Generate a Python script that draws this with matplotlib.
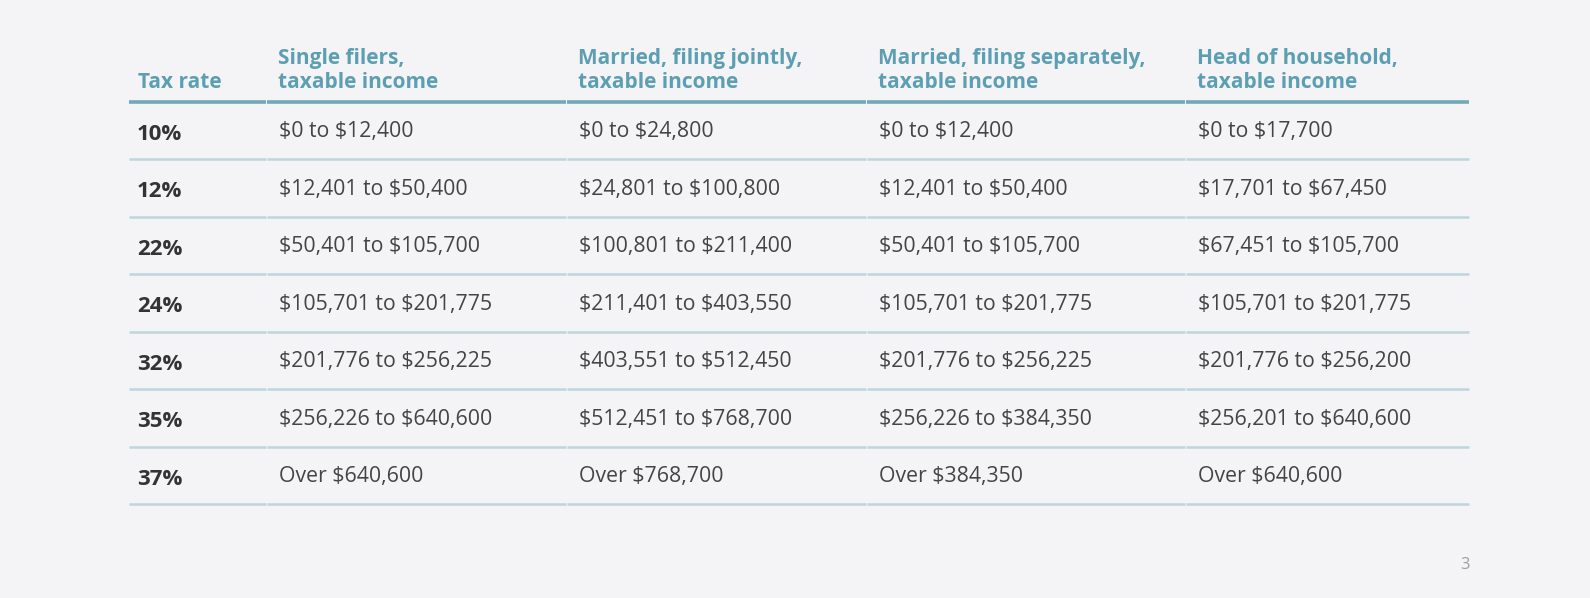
import matplotlib
matplotlib.use("Agg")
import matplotlib.pyplot as plt

headers = ["Tax rate", "Single filers,\ntaxable income", "Married, filing jointly,\ntaxable income",
           "Married, filing separately,\ntaxable income", "Head of household,\ntaxable income"]
rates = ["10%", "12%", "22%", "24%", "32%", "35%", "37%"]
single = ["$0 to $12,400", "$12,401 to $50,400", "$50,401 to $105,700", "$105,701 to $201,775",
          "$201,776 to $256,225", "$256,226 to $640,600", "Over $640,600"]
joint = ["$0 to $24,800", "$24,801 to $100,800", "$100,801 to $211,400", "$211,401 to $403,550",
         "$403,551 to $512,450", "$512,451 to $768,700", "Over $768,700"]
separate = ["$0 to $12,400", "$12,401 to $50,400", "$50,401 to $105,700", "$105,701 to $201,775",
            "$201,776 to $256,225", "$256,226 to $384,350", "Over $384,350"]
household = ["$0 to $17,700", "$17,701 to $67,450", "$67,451 to $105,700", "$105,701 to $201,775",
             "$201,776 to $256,200", "$256,201 to $640,600", "Over $640,600"]

BG = "#f4f4f6"
TEAL = "#5d9fb2"
plt.rcParams['font.family'] = ['Open Sans', 'DejaVu Sans']
plt.rcParams['text.parse_math'] = False  # keep the $ signs literal

fig = plt.figure(figsize=(15.9, 5.98), dpi=100, facecolor=BG)
ax = fig.add_axes([0, 0, 1, 1])
ax.set_facecolor(BG)
ax.set_xlim(0, 1590)
ax.set_ylim(598, 0)
ax.axis("off")

# column edges (pixels)
col_edges = [128, 266, 566, 866, 1185, 1469]
pad = 12
header_line_y = 101.5
row_h = 57.5

columns = [rates, single, joint, separate, household]

for c, h in enumerate(headers):
    x0, x1 = col_edges[c], col_edges[c + 1]
    ax.text(x0 + pad - (2 if c == 0 else 0), 88, h, ha="left", va="baseline", fontsize=15,
            fontweight="bold", color=TEAL, linespacing=1.2)
    ax.plot([x0 + 0.5, x1 - 0.5], [header_line_y, header_line_y], color="#72a9ba", lw=2.6,
            solid_capstyle="butt")

for r in range(len(rates)):
    yc = header_line_y + row_h * (r + 0.5)
    yl = header_line_y + row_h * (r + 1)
    for c, col in enumerate(columns):
        x0, x1 = col_edges[c], col_edges[c + 1]
        if c == 0:
            ax.text(x0 + 9, yc + 4, col[r], ha="left", va="center", fontsize=16,
                    fontweight="bold", color="#333333")
        else:
            ax.text(x0 + pad + 1, yc + 1.5, col[r], ha="left", va="center", fontsize=15.3,
                    color="#444444")
        ax.plot([x0 + 0.5, x1 - 0.5], [yl, yl], color="#bcd6de", lw=1.8, solid_capstyle="butt")

ax.text(1470, 565, "3", ha="right", va="center", fontsize=12, color="#a0a0a0")

fig.savefig("out.png", dpi=100, facecolor=BG)
